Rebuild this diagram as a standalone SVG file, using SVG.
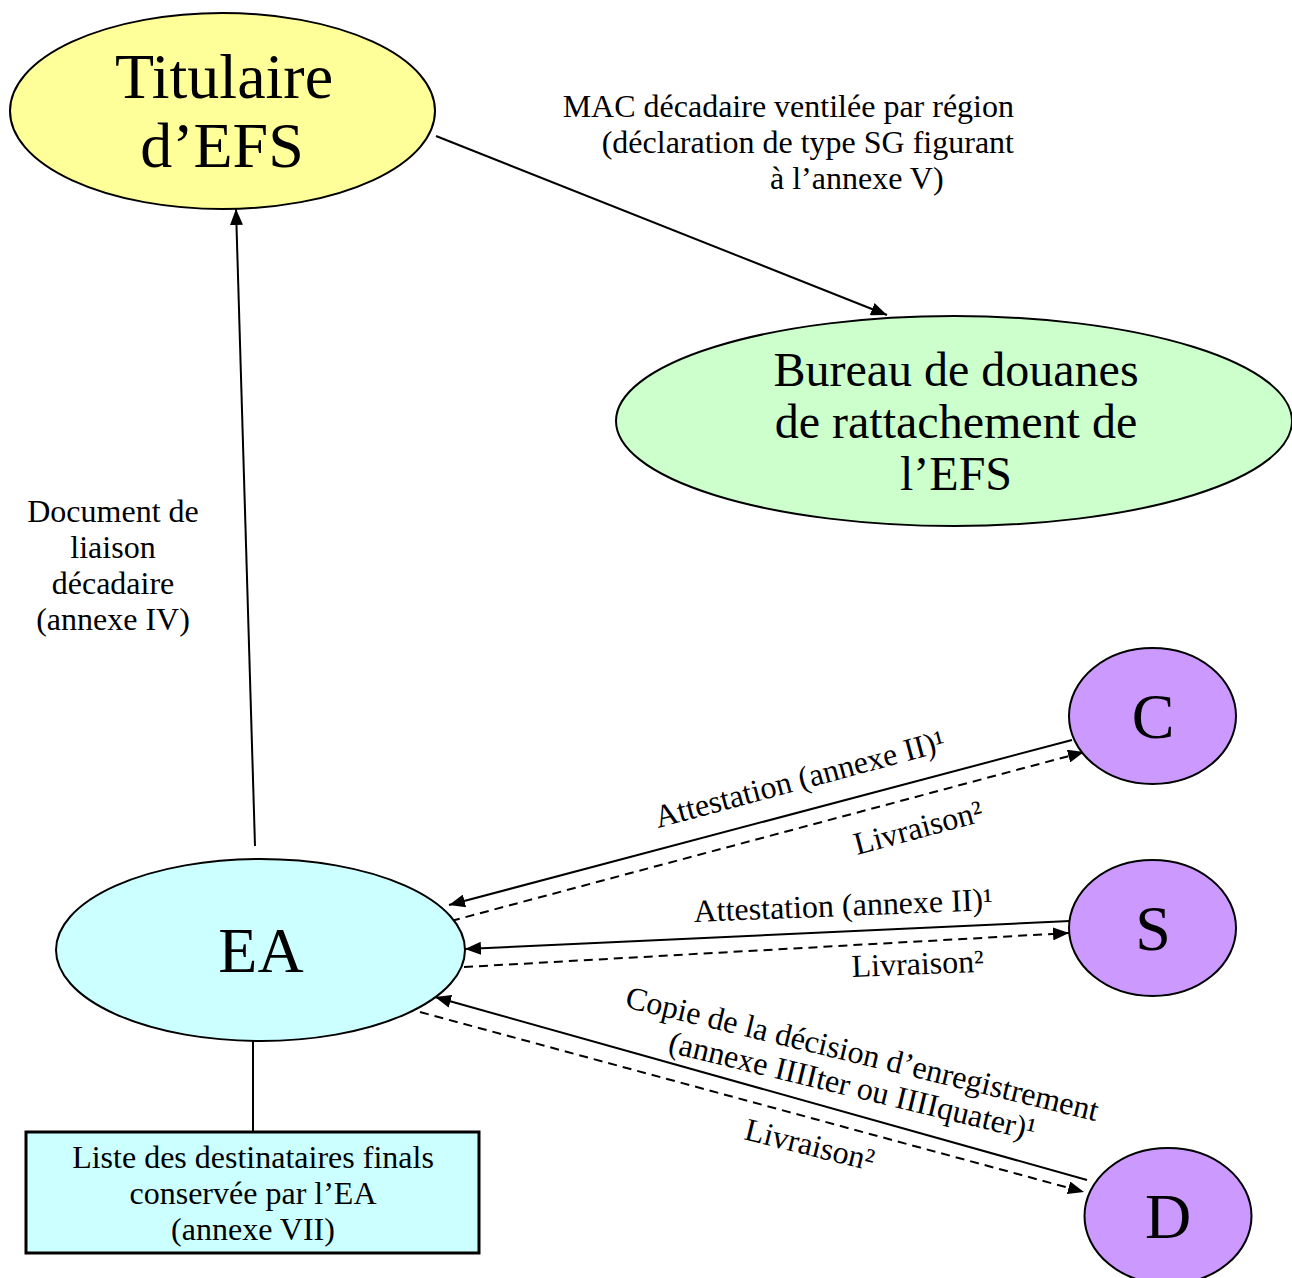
<svg xmlns="http://www.w3.org/2000/svg" width="1292" height="1278" viewBox="0 0 1292 1278">
<defs>
<style>
text{font-family:"Liberation Serif","Times New Roman",serif;fill:#000}
.node{stroke:#000;stroke-width:2}
.big{font-size:64px;text-anchor:middle}
.mid{font-size:48px;text-anchor:middle}
.lbl{font-size:32px}
.c{text-anchor:middle}
.e{text-anchor:end}
.ln{stroke:#000;stroke-width:2;fill:none}
.dash{stroke-dasharray:9 6}
</style>
<marker id="ah" viewBox="0 0 16 13" refX="16" refY="6.5" markerWidth="16" markerHeight="13" markerUnits="userSpaceOnUse" orient="auto">
<path d="M0,0 L16,6.5 L0,13 z" fill="#000"/>
</marker>
</defs>
<rect width="1292" height="1278" fill="#fff"/>

<g id="connectors">
<line class="ln" x1="255" y1="846" x2="236" y2="209" marker-end="url(#ah)"/>
<line class="ln" x1="436" y1="136" x2="887" y2="315" marker-end="url(#ah)"/>
<line class="ln" x1="1072" y1="740" x2="449" y2="905" marker-end="url(#ah)"/>
<line class="ln dash" x1="451" y1="921" x2="1084" y2="752" marker-end="url(#ah)"/>
<line class="ln" x1="1070" y1="921" x2="465" y2="949" marker-end="url(#ah)"/>
<line class="ln dash" x1="464" y1="967" x2="1069" y2="933" marker-end="url(#ah)"/>
<line class="ln" x1="1087" y1="1180" x2="435" y2="997" marker-end="url(#ah)"/>
<line class="ln dash" x1="420" y1="1012" x2="1084" y2="1192" marker-end="url(#ah)"/>
<line class="ln" x1="253" y1="1041" x2="253" y2="1132"/>
</g>

<g id="labels">
<text class="lbl e" x="1014" y="117">MAC décadaire ventilée par région</text>
<text class="lbl e" x="1014" y="153">(déclaration de type SG figurant</text>
<text class="lbl" x="770" y="189">à l’annexe V)</text>
<text class="lbl c" x="113" y="522">Document de</text>
<text class="lbl c" x="113" y="558">liaison</text>
<text class="lbl c" x="113" y="594">décadaire</text>
<text class="lbl c" x="113" y="630">(annexe IV)</text>
<text class="lbl" transform="translate(658,828) rotate(-15)">Attestation (annexe II)¹</text>
<text class="lbl" transform="translate(857,855) rotate(-15)">Livraison²</text>
<text class="lbl" transform="translate(694,922) rotate(-2.3)">Attestation (annexe II)¹</text>
<text class="lbl" transform="translate(852,977) rotate(-2.3)">Livraison²</text>
<text class="lbl" transform="translate(624,1007) rotate(13.6)">Copie de la décision d’enregistrement</text>
<text class="lbl" transform="translate(667,1052) rotate(13.6)">(annexe IIIIter ou IIIIquater)¹</text>
<text class="lbl" transform="translate(743,1139) rotate(14)">Livraison²</text>
</g>

<g id="titulaire">
<ellipse class="node" cx="222.5" cy="111" rx="212.5" ry="98" fill="#FFFF99"/>
<text class="big" x="224" y="98">Titulaire</text>
<text class="big" x="222" y="167">d’EFS</text>
</g>

<g id="bureau">
<ellipse class="node" cx="954" cy="421" rx="338" ry="105" fill="#CCFFCC"/>
<text class="mid" x="956" y="386">Bureau de douanes</text>
<text class="mid" x="956" y="438">de rattachement de</text>
<text class="mid" x="956" y="490">l’EFS</text>
</g>

<g id="ea">
<ellipse class="node" cx="260.5" cy="950" rx="204.5" ry="91" fill="#CCFFFF"/>
<text class="big" x="261" y="972">EA</text>
</g>

<g id="liste">
<rect x="26" y="1132" width="453" height="121" fill="#CCFFFF" stroke="#000" stroke-width="3"/>
<text class="lbl c" x="253" y="1168">Liste des destinataires finals</text>
<text class="lbl c" x="253" y="1204">conservée par l’EA</text>
<text class="lbl c" x="253" y="1240">(annexe VII)</text>
</g>

<g id="c">
<ellipse class="node" cx="1152.5" cy="716" rx="83.5" ry="68" fill="#CC99FF"/>
<text class="big" x="1153" y="738">C</text>
</g>

<g id="s">
<ellipse class="node" cx="1152.5" cy="928" rx="83.5" ry="68" fill="#CC99FF"/>
<text class="big" x="1153" y="950">S</text>
</g>

<g id="d">
<ellipse class="node" cx="1168" cy="1216" rx="83.5" ry="68" fill="#CC99FF"/>
<text class="big" x="1168" y="1238">D</text>
</g>
</svg>
